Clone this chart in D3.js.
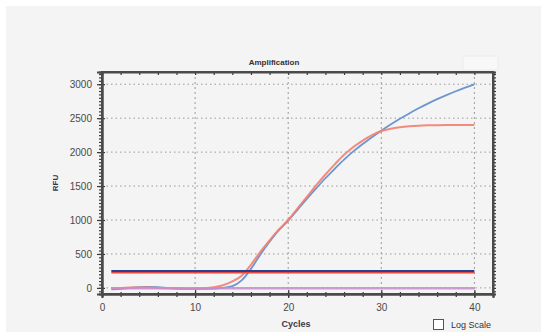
<!DOCTYPE html>
<html>
<head>
<meta charset="utf-8">
<script src="https://cdn.jsdelivr.net/npm/d3@7"></script>
<style>
  body { margin: 0; background: #fff; }
  text { font-family: "Liberation Sans", Arial, sans-serif; }
</style>
</head>
<body>
<svg id="chart" width="541" height="332"></svg>
<script>
// cycles and RFU readings
var cycles = [1, 2, 3, 4, 5, 6, 7, 8, 9, 10, 11, 12, 13, 14, 15, 16, 17, 18, 19, 20,
              21, 22, 23, 24, 25, 26, 27, 28, 29, 30, 31, 32, 33, 34, 35, 36, 37, 38, 39, 40];
var blueRFU = [-20, -15, 0, 10, 15, 10, 0, -10, -15, -15, -15, -10, 0, 25, 110, 280, 490, 680, 850, 990,
               1150, 1310, 1465, 1615, 1755, 1890, 2010, 2120, 2220, 2315, 2405, 2490, 2570, 2645, 2715, 2780, 2840, 2897, 2950, 3000];
var redRFU = [0, 0, 5, 5, 5, 0, -5, -10, -10, -10, -5, 10, 40, 95, 180, 340, 530, 700, 860, 1000,
              1170, 1340, 1510, 1670, 1820, 1960, 2075, 2170, 2250, 2310, 2345, 2366, 2380, 2389, 2394, 2397, 2399, 2400, 2400, 2400];
var thresholds = [248, 222];
var purpleLevel = -5;
var xTicks = [0, 10, 20, 30, 40];
var yTicks = [0, 500, 1000, 1500, 2000, 2500, 3000];

var svg = d3.select("#chart"),
    margin = { top: 72, right: 48, bottom: 38, left: 102 },
    width = +svg.attr("width") - margin.left - margin.right,
    height = +svg.attr("height") - margin.top - margin.bottom;

// grey panel behind everything
svg.append("rect")
    .attr("x", 6).attr("y", 6)
    .attr("width", 541).attr("height", 332)
    .attr("fill", "#f4f4f4");

svg.append("rect")
    .attr("x", 463).attr("y", 56)
    .attr("width", 35).attr("height", 14)
    .attr("fill", "#f8f8f8")
    .attr("stroke", "#ececec");

var xScale = d3.scaleLinear().domain([0, 42]).range([0, width]),
    yScale = d3.scaleLinear().domain([-90, 3180]).range([height, 0]);

var g = svg.append("g")
    .attr("transform", "translate(" + margin.left + "," + margin.top + ")");

// dotted grid
g.selectAll(".vgrid")
    .data(xTicks.slice(1))
    .enter().append("line")
    .attr("x1", d => xScale(d)).attr("x2", d => xScale(d))
    .attr("y1", 0).attr("y2", height)
    .attr("stroke", "#9a9a9a")
    .attr("stroke-width", 1)
    .attr("stroke-dasharray", "2,3");

g.selectAll(".hgrid")
    .data(yTicks)
    .enter().append("line")
    .attr("x1", 0).attr("x2", width)
    .attr("y1", d => yScale(d)).attr("y2", d => yScale(d))
    .attr("stroke", "#9a9a9a")
    .attr("stroke-width", 1)
    .attr("stroke-dasharray", "1.5,3");

// curves
var line = d3.line()
    .x((d, i) => xScale(cycles[i]))
    .y(d => yScale(d))
    .curve(d3.curveMonotoneX);

g.append("path")
    .datum(blueRFU)
    .attr("fill", "none")
    .attr("stroke", "#6f95cf")
    .attr("stroke-width", 1.8)
    .attr("d", line);

g.append("path")
    .datum(redRFU)
    .attr("fill", "none")
    .attr("stroke", "#f2806f")
    .attr("stroke-width", 2)
    .attr("stroke-opacity", 0.9)
    .attr("d", line);

// flat purple trace
g.append("line")
    .attr("x1", xScale(cycles[0])).attr("x2", xScale(cycles[cycles.length - 1]))
    .attr("y1", yScale(purpleLevel)).attr("y2", yScale(purpleLevel))
    .attr("stroke", "#c98bd3")
    .attr("stroke-width", 2.5)
    .attr("stroke-opacity", 0.85);

// threshold lines
g.append("line")
    .attr("x1", xScale(cycles[0])).attr("x2", xScale(cycles[cycles.length - 1]))
    .attr("y1", yScale(thresholds[1])).attr("y2", yScale(thresholds[1]))
    .attr("stroke", "#e5483f")
    .attr("stroke-width", 1.5);

g.append("line")
    .attr("x1", xScale(cycles[0])).attr("x2", xScale(cycles[cycles.length - 1]))
    .attr("y1", yScale(thresholds[0])).attr("y2", yScale(thresholds[0]))
    .attr("stroke", "#2c3f8f")
    .attr("stroke-width", 2);

// axes
var bottomAxis = g.append("g")
    .attr("transform", "translate(0," + height + ")")
    .call(d3.axisBottom(xScale).tickValues(xTicks).tickSize(4).tickPadding(6));
bottomAxis.selectAll(".tick line").attr("y1", -4);

g.append("g")
    .attr("transform", "translate(0," + height + ")")
    .call(d3.axisBottom(xScale).tickValues(d3.range(2, 42, 2)).tickSize(3).tickFormat(""))
    .selectAll(".tick line").attr("y1", -2);

g.append("g")
    .call(d3.axisTop(xScale).tickValues(d3.range(2, 42, 2)).tickSize(-3).tickFormat(""));

var leftAxis = g.append("g")
    .call(d3.axisLeft(yScale).tickValues(yTicks).tickFormat(d3.format("d")).tickSize(5).tickPadding(5));
leftAxis.selectAll(".tick line").attr("x1", 3);

g.append("g")
    .call(d3.axisLeft(yScale).tickValues(d3.range(-50, 3180, 50)).tickSize(3).tickFormat(""))
    .selectAll(".tick line").attr("x1", 1);

g.append("g")
    .attr("transform", "translate(" + width + ",0)")
    .call(d3.axisRight(yScale).tickValues(d3.range(-50, 3180, 50)).tickSize(3).tickFormat(""));

g.selectAll(".domain")
    .attr("stroke", "#4a4a4a")
    .attr("stroke-width", 2);
g.selectAll(".tick line")
    .attr("stroke", "#3a3a3a")
    .attr("stroke-width", 1.2);
g.selectAll(".tick text")
    .attr("font-size", "10px")
    .attr("fill", "#4a4a4a");

// frame
g.append("rect")
    .attr("width", width).attr("height", height)
    .attr("fill", "none")
    .attr("stroke", "#4a4a4a")
    .attr("stroke-width", 2);

// titles
svg.append("text")
    .attr("x", 274).attr("y", 65)
    .attr("text-anchor", "middle")
    .attr("font-size", "8px")
    .attr("font-weight", 700)
    .attr("fill", "#3a2f2f")
    .text("Amplification");

svg.append("text")
    .attr("transform", "translate(58,183) rotate(-90)")
    .attr("text-anchor", "middle")
    .attr("font-size", "8px")
    .attr("font-weight", 700)
    .attr("fill", "#2f3550")
    .text("RFU");

svg.append("text")
    .attr("x", 296).attr("y", 327)
    .attr("text-anchor", "middle")
    .attr("font-size", "9px")
    .attr("font-weight", 700)
    .attr("fill", "#3a3a4a")
    .text("Cycles");

// log scale checkbox
svg.append("rect")
    .attr("x", 433.5).attr("y", 319.5)
    .attr("width", 10).attr("height", 10)
    .attr("fill", "#fff")
    .attr("stroke", "#555");

svg.append("text")
    .attr("x", 451).attr("y", 328)
    .attr("font-size", "9px")
    .attr("fill", "#333")
    .text("Log Scale");
</script>
</body>
</html>
